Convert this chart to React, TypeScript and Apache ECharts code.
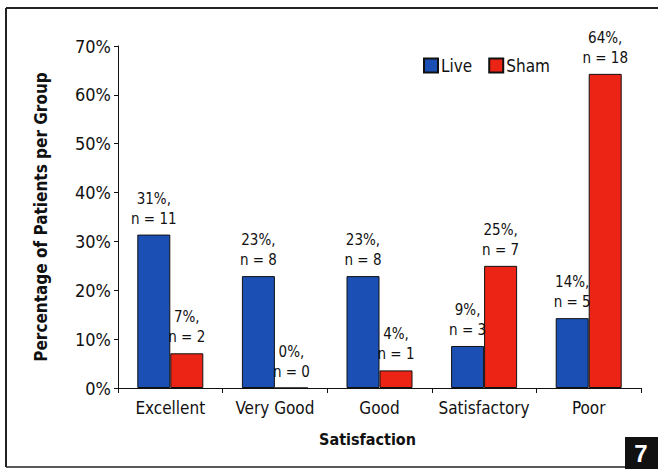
import React, { useEffect, useRef } from "react";
import * as echarts from "echarts";

const categories = ["Excellent", "Very Good", "Good", "Satisfactory", "Poor"];
const liveValues = [31.4, 22.9, 22.9, 8.6, 14.3];
const shamValues = [7.1, 0, 3.6, 25, 64.3];
const livePctLabels = ["31%", "23%", "23%", "9%", "14%"];
const shamPctLabels = ["7%", "0%", "4%", "25%", "64%"];
const liveN = [11, 8, 8, 3, 5];
const shamN = [2, 0, 1, 7, 18];

const FONT = "'DejaVu Sans Condensed', Roboto, sans-serif";

export default function App() {
  const ref = useRef<HTMLDivElement>(null);
  useEffect(() => {
    if (!ref.current) return;
    const chart = echarts.init(ref.current, null, { renderer: "svg" });
    const mkLabel = (pcts: string[], ns: number[]) => ({
      show: true,
      position: "top",
      distance: 6,
      color: "#111",
      fontFamily: FONT,
      fontSize: 15,
      lineHeight: 20,
      formatter: (p: any) => `${pcts[p.dataIndex]},\nn = ${ns[p.dataIndex]}`,
    });
    chart.setOption({
      animation: false,
      backgroundColor: "#fff",
      textStyle: { fontFamily: FONT },
      grid: { left: 118, right: 17, top: 46, bottom: 81 },
      legend: {
        left: 423,
        top: 57,
        padding: 0,
        itemWidth: 14,
        itemHeight: 14,
        itemGap: 16,
        textStyle: { fontFamily: FONT, fontSize: 17, color: "#111", padding: [0, 0, 0, -2] },
        data: [
          { name: "Live", icon: "rect" },
          { name: "Sham", icon: "rect" },
        ],
      },
      xAxis: {
        type: "category",
        data: categories,
        name: "Satisfaction",
        nameLocation: "middle",
        nameGap: 43,
        nameTextStyle: { fontFamily: FONT, fontSize: 16, fontWeight: "bold", color: "#111", padding: [0, 24, 0, 0] },
        axisLine: { lineStyle: { color: "#111", width: 1 } },
        axisTick: { show: true, length: 5, lineStyle: { color: "#111" } },
        axisLabel: { fontFamily: FONT, fontSize: 17, color: "#111", margin: 11, interval: 0 },
      },
      yAxis: {
        type: "value",
        min: 0,
        max: 70,
        interval: 10,
        name: "Percentage of Patients per Group",
        nameLocation: "middle",
        nameGap: 69,
        nameTextStyle: { fontFamily: FONT, fontSize: 17, fontWeight: "bold", color: "#111" },
        axisLine: { show: true, lineStyle: { color: "#111", width: 1 } },
        axisTick: { show: true, length: 4, lineStyle: { color: "#111" } },
        splitLine: { show: false },
        axisLabel: { fontFamily: FONT, fontSize: 18, color: "#111", margin: 7, formatter: "{value}%" },
      },
      series: [
        {
          name: "Live",
          type: "bar",
          data: liveValues,
          barWidth: 33,
          barGap: "0%",
          itemStyle: { color: "#1b4fb3", borderColor: "#111", borderWidth: 1 },
          label: mkLabel(livePctLabels, liveN),
        },
        {
          name: "Sham",
          type: "bar",
          data: shamValues,
          barWidth: 33,
          barGap: "0%",
          itemStyle: { color: "#ec2416", borderColor: "#111", borderWidth: 1 },
          label: mkLabel(shamPctLabels, shamN),
        },
      ],
      graphic: [
        { type: "line", shape: { x1: 6, y1: 8, x2: 658, y2: 8 }, style: { stroke: "#222", lineWidth: 2 } },
        { type: "line", shape: { x1: 6, y1: 8, x2: 6, y2: 467 }, style: { stroke: "#222", lineWidth: 2 } },
        { type: "line", shape: { x1: 6, y1: 467, x2: 625, y2: 467 }, style: { stroke: "#222", lineWidth: 1.5 } },
        { type: "rect", shape: { x: 625, y: 437, width: 33, height: 32 }, style: { fill: "#111" } },
        {
          type: "text",
          x: 641,
          y: 453,
          style: {
            text: "7",
            fill: "#fff",
            fontFamily: "'Liberation Sans', sans-serif",
            fontWeight: "bold",
            fontSize: 24,
            align: "center",
            verticalAlign: "middle",
          },
        },
      ],
    });
    return () => chart.dispose();
  }, []);
  return <div ref={ref} style={{ width: 658, height: 469, position: "absolute", left: 0, top: 0 }} />;
}
